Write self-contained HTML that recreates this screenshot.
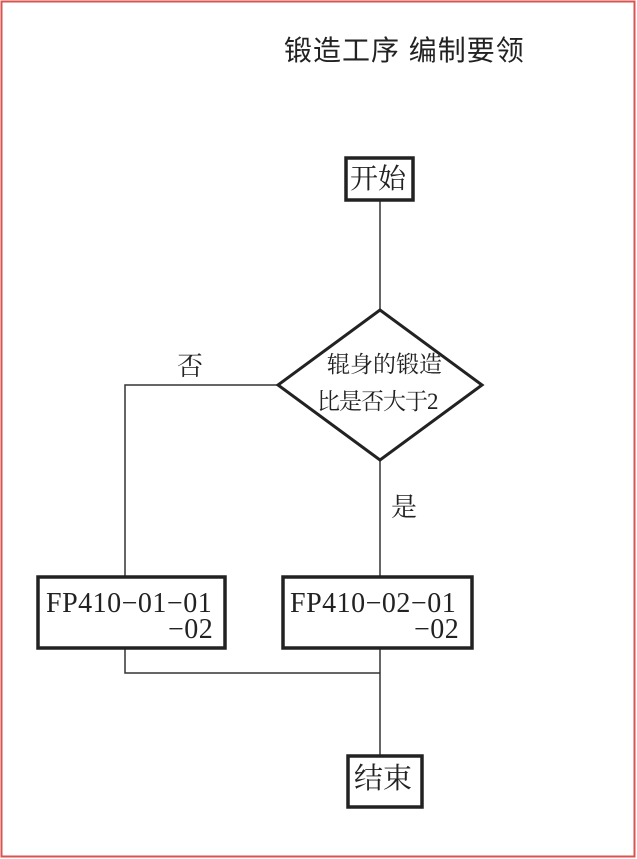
<!DOCTYPE html>
<html><head><meta charset="utf-8"><style>
html,body{margin:0;padding:0;background:#fff;}
body{width:637px;height:859px;position:relative;overflow:hidden;font-family:"Liberation Serif","Noto Serif CJK SC",serif;color:#222;}
.t{position:absolute;white-space:nowrap;line-height:1;}
</style></head><body>
<svg width="637" height="859" style="position:absolute;left:0;top:0">
<rect x="1.5" y="1.5" width="633" height="855" fill="none" stroke="#d9534f" stroke-width="2"/>
<g stroke="#333" stroke-width="1.5" fill="none">
<line x1="380" y1="200" x2="380" y2="310"/>
<polyline points="278,385 125,385 125,577"/>
<line x1="380" y1="460" x2="380" y2="577"/>
<polyline points="125,648 125,673 380,673"/>
<line x1="380" y1="648" x2="380" y2="756"/>
</g>
<g stroke="#222" stroke-width="3.5" fill="none">
<rect x="346" y="158" width="67" height="42"/>
<polygon points="380,310 482,385 380,460 278,385" stroke-width="3"/>
<rect x="38" y="577" width="187" height="71"/>
<rect x="283" y="577" width="189" height="71"/>
<rect x="348" y="756" width="74" height="51"/>
</g>
</svg>
<div class="t" style="left:284px;top:37px;font-size:28px;font-family:'Liberation Sans','Noto Sans CJK SC',sans-serif;letter-spacing:1px">锻造工序 编制要领</div>
<div class="t" style="left:350px;top:166px;font-size:28px">开始</div>
<div class="t" style="left:327px;top:353px;font-size:23px">辊身的锻造</div>
<div class="t" style="left:317px;top:390px;font-size:23px;letter-spacing:-1px">比是否大于2</div>
<div class="t" style="left:177px;top:354px;font-size:26px">否</div>
<div class="t" style="left:391px;top:495px;font-size:26px">是</div>
<div class="t" style="left:46px;top:590px;font-size:28px;letter-spacing:0.5px">FP410−01−01</div>
<div class="t" style="left:168px;top:616px;font-size:28px;letter-spacing:0.5px">−02</div>
<div class="t" style="left:290px;top:590px;font-size:28px;letter-spacing:0.5px">FP410−02−01</div>
<div class="t" style="left:414px;top:616px;font-size:28px;letter-spacing:0.5px">−02</div>
<div class="t" style="left:354px;top:765px;font-size:29px">结束</div>
</body></html>
